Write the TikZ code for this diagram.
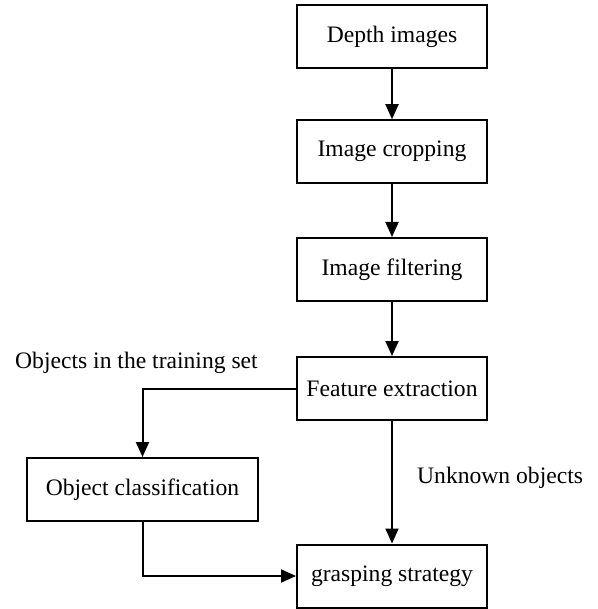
\documentclass[tikz,border=0pt]{standalone}
\usepackage{fontspec}
\setmainfont{Liberation Serif}
\usetikzlibrary{arrows.meta}
\begin{document}
\begin{tikzpicture}[x=1pt,y=-1pt,
  stepbox/.style={draw, line width=2pt, minimum width=190pt, minimum height=63pt,
    inner sep=0pt, font=\fontsize{23.6}{28}\selectfont},
  lbl/.style={inner sep=0pt, font=\fontsize{23.6}{28}\selectfont},
  flow/.style={line width=2pt, -{Triangle[length=15pt,width=13pt]}}]
  \useasboundingbox (0,0) rectangle (597,609);

  % main chain of processing steps
  \node[stepbox] (depth)   at (392,36.5)  {Depth images};
  \node[stepbox] (crop)    at (392,151.7) {Image cropping};
  \node[stepbox] (filter)  at (392,269.5) {Image filtering};
  \node[stepbox] (feature) at (392,388.5) {Feature extraction};
  \node[stepbox, minimum width=231pt] (classify) at (142.5,489.5) {Object classification};
  \node[stepbox] (grasp)   at (392,576)   {grasping strategy};

  % branch labels
  \node[lbl, anchor=base west] (known)   at (15,368)  {Objects in the training set};
  \node[lbl, anchor=base west] (unknown) at (417,483) {Unknown objects};

  % connectors
  \draw[flow] (depth) -- (crop);
  \draw[flow] (crop) -- (filter);
  \draw[flow] (filter) -- (feature);
  \draw[flow] (feature.west) -| (classify.north);
  \draw[flow] (feature) -- (grasp);
  \draw[flow] (classify.south) |- (grasp.west);
\end{tikzpicture}
\end{document}
